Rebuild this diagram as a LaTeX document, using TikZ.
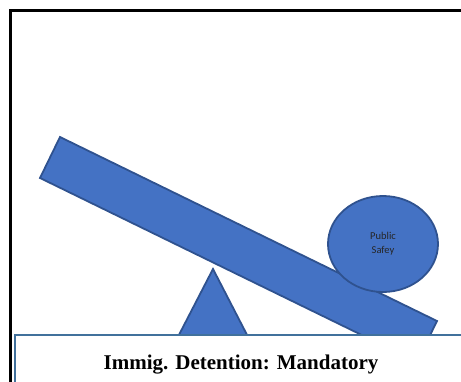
\documentclass[tikz,border=0pt]{standalone}
\usepackage{fontspec}
\usetikzlibrary{shapes.geometric}
\setmainfont{Liberation Serif}
\newfontfamily\labelfont{Carlito}
\definecolor{shapefill}{HTML}{4472C4}
\definecolor{shapeedge}{HTML}{2F528F}
\definecolor{boxedge}{HTML}{41719C}
\begin{document}
\begin{tikzpicture}[x=1pt,y=-1pt,
  part/.style={fill=shapefill,draw=shapeedge,line width=1.8pt,line join=miter}]
  \clip (0,0) rectangle (461,381);
  \useasboundingbox (0,0) rectangle (461,381);
  % outer frame
  \draw[line width=2.2pt,black] (10.5,400) -- (10.5,10.5) -- (480,10.5);
  % fulcrum
  \coordinate (apex) at (213,269);
  \path[part] (apex) -- (166,360) -- (260,360) -- cycle;
  % tilted plank
  \path[part] (60,137) -- (437,321) -- (417,362) -- (40,178) -- cycle;
  % weight on the plank
  \node[part,ellipse,minimum width=110pt,minimum height=96pt,inner sep=0pt,
        font=\labelfont\fontsize{10.5}{14}\selectfont,align=center,text=black!85]
        (weight) at (383,244) {Public\\Safey};
  % caption box
  \draw[fill=white,draw=boxedge,line width=1.8pt] (15,335) rectangle (490,400);
  \node[font=\bfseries\fontsize{21}{24}\selectfont,anchor=base] (caption)
        at (241,369) {Immig. Detention: Mandatory};
\end{tikzpicture}
\end{document}
